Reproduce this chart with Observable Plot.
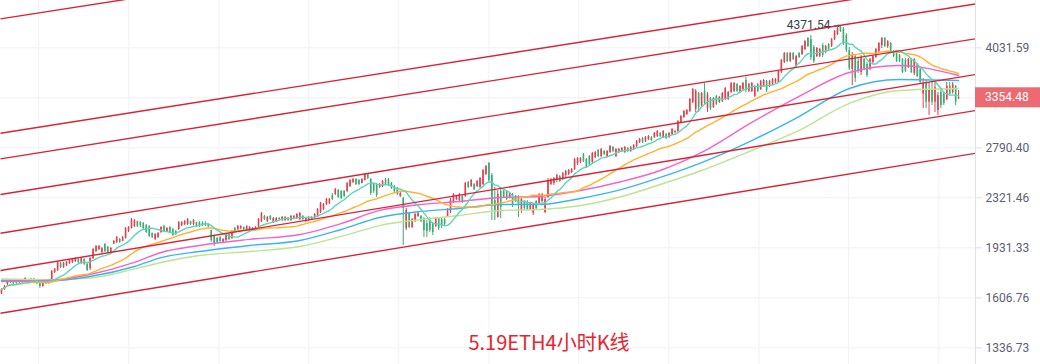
<!DOCTYPE html>
<html><head><meta charset="utf-8">
<script src="https://cdn.jsdelivr.net/npm/d3@7"></script>
<script src="https://cdn.jsdelivr.net/npm/@observablehq/plot@0.6"></script>
<style>
html,body{margin:0;padding:0;background:#fff;}
#chart{width:1040px;height:364px;}
</style></head><body><div id="chart"></div>
<script>
// ETH 4H candles (USDT)
const open = [
1632,1657,1687,1706,1700,1703,1700,1702,1706,1718,
1706,1700,1718,1700,1675,1706,1693,1712,1764,1777,
1823,1797,1810,1823,1830,1836,1850,1823,1850,1817,
1790,1856,1905,1919,1898,1955,1934,1898,1958,1970,
1992,1977,1999,2051,2073,2088,2127,2119,2112,2096,
2088,2036,1992,2006,2043,2088,2051,2081,2066,2051,
2066,2096,2104,2104,2127,2104,2119,2119,2112,2112,
2104,2058,2014,1999,2006,1970,1984,2028,1999,2073,
2066,2073,2081,2066,2066,2058,2066,2081,2127,2167,
2127,2167,2119,2127,2151,2135,2135,2151,2135,2151,
2151,2143,2167,2127,2135,2159,2159,2167,2199,2224,
2265,2273,2341,2350,2385,2376,2376,2376,2420,2456,
2483,2474,2447,2474,2529,2483,2438,2438,2411,2420,
2483,2483,2447,2420,2403,2333,2316,2073,2191,2081,
2127,2167,2167,2151,2112,2135,2112,2088,2151,2143,
2143,2167,2208,2282,2307,2298,2333,2333,2456,2420,
2438,2420,2411,2438,2529,2634,2520,2298,2159,2376,
2376,2367,2316,2350,2333,2324,2216,2290,2282,2224,
2191,2290,2273,2290,2199,2324,2438,2447,2474,2511,
2483,2520,2529,2548,2576,2634,2643,2722,2673,2702,
2643,2692,2763,2702,2753,2702,2743,2794,2702,2743,
2753,2743,2783,2753,2773,2804,2845,2888,2856,2877,
2898,2898,2909,2942,2898,2931,2898,2931,2952,2963,
3063,3120,3155,3189,3297,3213,3408,3260,3433,3225,
3346,3237,3371,3297,3309,3333,3333,3420,3433,3522,
3420,3458,3575,3433,3433,3371,3522,3458,3496,3562,
3496,3522,3549,3549,3681,3819,3948,3834,3948,3764,
3948,3934,4007,4172,4156,4036,3905,3905,4066,3963,
4081,4051,4156,4234,4344,4313,4218,3992,3722,3905,
3834,3681,3862,3791,3722,3819,3890,3977,4066,4172,
4051,4096,3977,3948,3919,3862,3848,3750,3862,3668,
3791,3722,3400,3535,3300,3450,3300,3200,3420,3400,
3330,3500,3420,3500,3340];
const high = [
1663,1681,1712,1712,1706,1706,1718,1718,1731,1720,
1725,1725,1720,1706,1700,1712,1718,1777,1790,1836,
1830,1830,1836,1850,1856,1863,1856,1863,1856,1823,
1863,1927,1948,1948,1934,1963,1941,1934,1984,2014,
1999,2014,2081,2088,2151,2143,2130,2127,2119,2104,
2096,2040,2036,2043,2088,2096,2081,2088,2073,2058,
2127,2127,2135,2151,2130,2143,2122,2127,2127,2127,
2112,2062,2021,2006,2014,1999,2036,2036,2058,2081,
2096,2096,2084,2096,2088,2081,2088,2151,2199,2175,
2167,2175,2159,2159,2159,2167,2167,2159,2175,2175,
2191,2199,2175,2159,2167,2167,2191,2232,2282,2273,
2316,2316,2359,2403,2394,2385,2385,2456,2483,2492,
2492,2483,2492,2539,2539,2492,2447,2447,2447,2474,
2492,2492,2456,2429,2411,2367,2324,2232,2199,2151,
2191,2199,2175,2159,2135,2159,2119,2159,2159,2159,
2151,2232,2316,2359,2341,2359,2341,2456,2465,2483,
2447,2474,2502,2576,2614,2643,2539,2411,2385,2411,
2385,2385,2367,2359,2341,2341,2324,2298,2298,2282,
2273,2298,2359,2359,2324,2492,2492,2502,2529,2520,
2548,2567,2576,2586,2683,2692,2692,2732,2683,2712,
2743,2753,2773,2783,2763,2763,2814,2804,2783,2783,
2794,2804,2794,2804,2824,2866,2888,2898,2909,2920,
2909,2952,2974,2952,2974,2942,2952,2996,2974,3085,
3143,3201,3213,3346,3471,3458,3420,3420,3535,3420,
3358,3358,3383,3371,3420,3484,3433,3549,3549,3535,
3509,3549,3615,3535,3549,3509,3535,3575,3588,3575,
3575,3601,3601,3709,3862,3963,3963,3963,3963,3919,
3963,4066,4141,4187,4218,4066,4036,4021,4096,4066,
4096,4172,4297,4344,4371.54,4344,4249,4036,3963,3919,
3876,3919,3876,3819,3876,3919,4021,4111,4187,4187,
4141,4111,3992,3963,3934,3876,3876,3876,3876,3876,
3805,3736,3601,3575,3549,3549,3575,3420,3471,3420,
3549,3549,3549,3509,3445];
const low = [
1626,1651,1681,1693,1687,1687,1693,1693,1700,1700,
1700,1693,1687,1663,1669,1687,1690,1706,1757,1770,
1790,1790,1803,1817,1823,1830,1823,1817,1810,1770,
1777,1850,1898,1912,1891,1898,1891,1891,1955,1963,
1963,1975,1995,2043,2070,2081,2081,2081,2066,2036,
2006,1999,1984,1999,2036,2043,2043,2036,2014,2021,
2058,2088,2096,2096,2096,2096,2081,2081,2088,2088,
2081,1970,1941,1963,1970,1963,1977,1984,1992,2043,
2058,2066,2058,2058,2058,2051,2058,2073,2119,2135,
2119,2135,2112,2119,2135,2127,2127,2127,2127,2143,
2143,2135,2135,2119,2127,2135,2151,2159,2191,2216,
2257,2265,2298,2341,2316,2307,2324,2367,2411,2447,
2429,2429,2443,2470,2483,2341,2359,2324,2403,2411,
2429,2420,2394,2367,2341,2324,1948,2058,2073,2073,
2119,2159,2119,2006,2006,2043,2021,2081,2058,2073,
2096,2159,2191,2273,2298,2282,2273,2324,2403,2411,
2385,2411,2403,2429,2520,2456,2135,2135,2155,2151,
2316,2298,2312,2240,2282,2159,2191,2216,2216,2216,
2175,2216,2268,2282,2191,2316,2429,2429,2456,2456,
2474,2502,2520,2539,2567,2614,2634,2643,2586,2614,
2634,2683,2692,2692,2712,2692,2732,2743,2692,2732,
2743,2732,2743,2743,2763,2794,2835,2835,2845,2866,
2856,2888,2898,2898,2888,2877,2888,2920,2942,2952,
3052,3108,3143,3178,3285,3178,3178,3237,3260,3178,
3201,3225,3260,3285,3297,3321,3321,3408,3420,3420,
3408,3445,3420,3420,3420,3358,3420,3445,3484,3420,
3484,3509,3535,3535,3668,3805,3819,3819,3848,3750,
3876,3919,3992,4036,3848,3805,3890,3890,3890,3948,
3992,4036,4141,4218,4265,4066,3963,3709,3509,3549,
3668,3641,3709,3615,3709,3805,3876,3963,4021,4036,
4021,3963,3890,3819,3819,3668,3681,3736,3668,3641,
3615,3535,3225,3225,3143,3260,3178,3143,3225,3260,
3320,3383,3400,3260,3333];
const close = [
1657,1675,1706,1700,1693,1695,1712,1714,1725,1706,
1718,1720,1693,1675,1693,1693,1712,1770,1784,1830,
1797,1823,1830,1843,1850,1856,1830,1856,1817,1777,
1856,1919,1941,1941,1927,1905,1898,1927,1977,2006,
1970,2006,2073,2081,2143,2135,2088,2096,2073,2043,
2014,2006,2028,2036,2081,2051,2073,2043,2021,2028,
2119,2119,2127,2143,2104,2135,2088,2096,2096,2096,
2088,1984,1955,1970,1977,1992,2028,1992,2051,2051,
2088,2088,2066,2088,2081,2073,2081,2143,2191,2143,
2159,2143,2151,2151,2143,2159,2159,2135,2167,2167,
2183,2191,2143,2151,2159,2143,2183,2224,2273,2265,
2307,2307,2307,2394,2324,2316,2333,2447,2474,2483,
2438,2438,2483,2529,2492,2359,2376,2341,2438,2465,
2438,2429,2403,2376,2350,2359,2232,2216,2081,2143,
2183,2191,2127,2058,2051,2058,2043,2151,2073,2088,
2104,2224,2298,2350,2333,2350,2282,2447,2411,2474,
2394,2465,2492,2567,2605,2474,2257,2199,2350,2240,
2324,2307,2359,2257,2290,2257,2307,2232,2224,2273,
2265,2232,2350,2350,2307,2474,2483,2492,2520,2465,
2539,2558,2567,2576,2673,2683,2683,2653,2595,2624,
2732,2743,2702,2773,2722,2753,2804,2753,2773,2773,
2783,2794,2753,2794,2814,2856,2877,2845,2898,2909,
2866,2942,2963,2909,2963,2888,2942,2985,2963,3074,
3131,3189,3201,3333,3458,3433,3237,3408,3285,3395,
3225,3346,3272,3358,3408,3471,3420,3535,3535,3433,
3496,3535,3445,3522,3535,3496,3433,3562,3575,3445,
3562,3588,3588,3695,3848,3948,3834,3948,3862,3905,
3890,4051,4126,4051,3890,3834,4021,4007,3919,4051,
4007,4156,4281,4328,4281,4096,3992,3736,3919,3601,
3695,3890,3736,3641,3862,3905,4007,4096,4172,4051,
4126,3977,3905,3834,3834,3681,3695,3862,3681,3862,
3628,3549,3535,3300,3450,3300,3480,3380,3260,3285,
3500,3400,3520,3300,3354.48];

// slow moving averages at these candle indices
const maSampleIdx = [0, 15, 30, 45, 54, 67, 84, 101, 115, 128, 142, 155, 169, 182, 196, 210, 223, 237, 254, 270, 287, 304, 324];
const maPink  = [1706,1712,1751,1830,1898,1948,1992,2028,2112,2216,2265,2290,2324,2333,2385,2465,2567,2743,3063,3371,3681,3777,3641];
const maBlue  = [1712,1709,1738,1803,1863,1905,1948,1984,2066,2159,2208,2232,2265,2265,2316,2394,2502,2643,2866,3131,3471,3588,3575];
const maGreen = [1722,1718,1728,1787,1830,1877,1905,1941,2014,2096,2143,2175,2216,2224,2257,2333,2438,2567,2763,2974,3285,3445,3471];
// fast moving averages computed from closes
const fastPeriods = [10, 30];
const fastColors = ["#5cd6b6", "#ffb22e"];
const slowColors = ["#f264c6", "#3db4ef", "#bde394"];

const yTicks = [1336.73, 1606.76, 1931.33, 2321.46, 2790.40, 3354.48, 4031.59];
const timeGrid = [12.6, 43.1, 73.6, 104.0, 134.5, 165.0, 195.4, 225.9, 256.4, 286.8, 317.3];
// drawn channel lines: price at first candle and at last candle
const channelStart = [4488, 2946, 2681, 2351, 2039, 1778, 1519];
const channelEnd   = [7747, 5123, 4693, 4126, 3617, 3168, 2707];
const title = "5.19ETH4小时K线";

const UP = "#e2404f", DOWN = "#3caa74";
const n = close.length;
const last = close[n - 1];
const candles = close.map((c, i) => ({i, o: open[i], h: high[i], l: low[i], c, up: c >= open[i]}));
const xDom = [-0.34, 329.72];
const channels = channelStart.map((s, k) => {
  const a = Math.log(s), b = Math.log(channelEnd[k]);
  const at = t => Math.exp(a + (b - a) * t / (n - 1));
  return {xa: xDom[0], ya: at(xDom[0]), xb: xDom[1], yb: at(xDom[1])};
});
const slow = [maPink, maBlue, maGreen].map(arr => arr.map((v, j) => ({i: maSampleIdx[j], v})));
const pk = d3.maxIndex(high);

const chart = Plot.plot({
  width: 1040, height: 364,
  marginLeft: 0, marginRight: 65, marginTop: 0, marginBottom: 0,
  style: {fontFamily: "Roboto, 'Noto Sans', sans-serif", fontSize: "12px", background: "#fff", overflow: "visible"},
  x: {domain: xDom, axis: null},
  y: {type: "log", domain: [1257.1, 4798.2], axis: null},
  marks: [
    Plot.ruleY(yTicks, {stroke: "#eef1f6", strokeWidth: 1}),
    Plot.ruleX(timeGrid, {stroke: "#eef1f6", strokeWidth: 1}),
    Plot.axisY(yTicks.filter(t => t !== last), {anchor: "right", label: null, tickSize: 6, tickPadding: 4, stroke: "#dfe2ea", color: "#5c6171", fontSize: 12, tickFormat: d => d.toFixed(2)}),
    Plot.ruleX(candles, {x: "i", y1: "l", y2: "h", stroke: d => d.up ? UP : DOWN, strokeWidth: 1}),
    Plot.ruleX(candles, {x: "i", y1: "o", y2: "c", stroke: d => d.up ? UP : DOWN, strokeWidth: 1.6}),
    ...slow.slice().reverse().map((s, j) => Plot.line(s, {x: "i", y: "v", stroke: slowColors[2 - j], strokeWidth: 1.4, curve: "monotone-x"})),
    ...fastPeriods.slice().reverse().map((k, j) => Plot.lineY(candles, Plot.windowY({k, anchor: "end", reduce: "mean", strict: false}, {x: "i", y: "c", stroke: fastColors[1 - j], strokeWidth: 1.4}))),
    Plot.link(channels, {x1: "xa", y1: "ya", x2: "xb", y2: "yb", stroke: "#d8243a", strokeWidth: 1.4, clip: true}),
    Plot.text([candles[pk]], {x: "i", y: "h", text: d => d.h.toFixed(2), textAnchor: "end", dx: -10, dy: -1, fill: "#3a3d45", fontSize: 12}),
    Plot.arrow([candles[pk]], {x1: d => d.i - 2, x2: d => d.i - 0.3, y1: "h", y2: "h", stroke: "#555", strokeWidth: 1, headLength: 4}),
    Plot.text([title], {frameAnchor: "bottom", dx: 61, dy: -21, lineAnchor: "middle", fill: "#e5252d", fontSize: 20, fontFamily: "'Noto Sans CJK SC', sans-serif"})
  ]
});

const svg = d3.select(chart);
const yS = chart.scale("y");
const yy = yS.apply(last);
svg.append("line").attr("x1", 975.5).attr("x2", 975.5).attr("y1", 0).attr("y2", 364).attr("stroke", "#dfe2ea");
const g = svg.append("g").attr("text-anchor", "start");
g.append("rect").attr("x", 975).attr("y", yy - 10).attr("width", 65).attr("height", 20).attr("fill", "#ec6b73");
g.append("text").attr("x", 985).attr("y", yy).attr("dy", "0.35em").attr("fill", "#fff").attr("text-anchor", "start")
  .attr("font-family", "Roboto, sans-serif").attr("font-size", 12).text(last.toFixed(2));
document.getElementById("chart").appendChild(chart);
</script>
</body></html>
